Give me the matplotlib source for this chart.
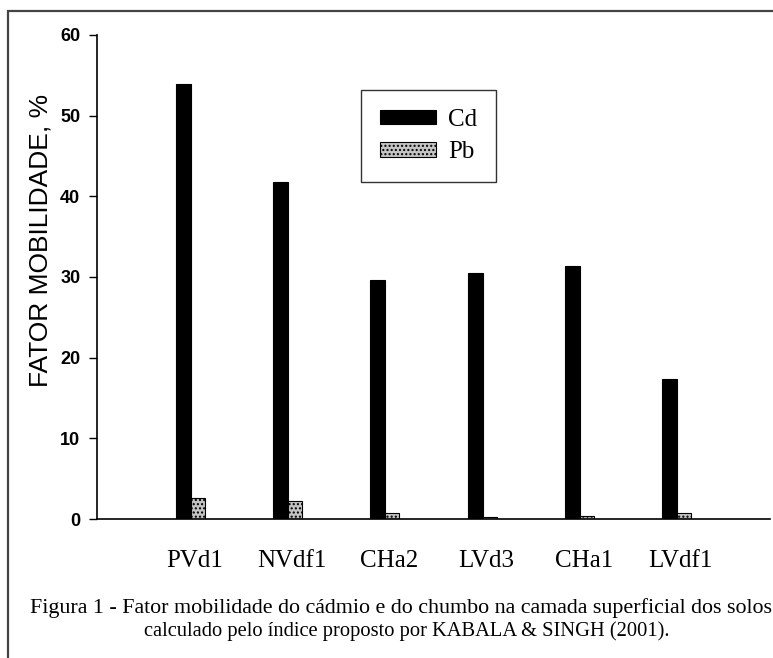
import matplotlib.pyplot as plt
import numpy as np
from matplotlib.patches import Rectangle

# valores
solos = ['PVd1', 'NVdf1', 'CHa2', 'LVd3', 'CHa1', 'LVdf1']
cd = [53.9, 41.8, 29.6, 30.5, 31.4, 17.3]
pb = [2.6, 2.2, 0.8, 0.3, 0.4, 0.7]
yticks = [0, 10, 20, 30, 40, 50, 60]
legenda = 'Figura 1 - Fator mobilidade do cádmio e do chumbo na camada superficial dos solos'
legenda2 = 'calculado pelo índice proposto por KABALA & SINGH (2001).'

fig = plt.figure(figsize=(7.73, 6.58), dpi=100)
ax = fig.add_axes([97 / 773, 1 - 519 / 658, 673 / 773, 484 / 658])

x = np.arange(len(solos))
ax.bar(x, cd, width=-0.155, align='edge', color='black', edgecolor='black', linewidth=0.8, label='Cd')
ax.bar(x, pb, width=0.144, align='edge', color='#c4c4c4', edgecolor='black', linewidth=0.8,
       hatch='....', label='Pb')

ax.set_xlim(-0.967, 5.957)
ax.set_ylim(0, 60)
ax.set_yticks(yticks)
ax.set_yticklabels([str(t) for t in yticks], fontfamily='Liberation Sans', fontsize=13, fontweight='bold')
ax.tick_params(axis='y', direction='out', length=6, width=1, pad=6)
ax.set_xticks(x + 0.04)
ax.set_xticklabels(solos, fontfamily='Liberation Serif', fontsize=18)
ax.tick_params(axis='x', length=0, pad=22)
for s in ['top', 'right']:
    ax.spines[s].set_visible(False)
ax.spines['left'].set_linewidth(1.2)
ax.spines['bottom'].set_linewidth(1.2)

ax.set_ylabel('FATOR MOBILIDADE, %', fontfamily='Liberation Sans', fontsize=19)
ax.yaxis.set_label_coords((53 - 97) / 673, (519 - 240) / 484)

leg = ax.legend(loc='upper left', bbox_to_anchor=(0.392, 0.886), frameon=True, fancybox=False,
                prop={'family': 'Liberation Serif', 'size': 18}, handlelength=2.25, handleheight=0.5,
                handletextpad=0.5, borderpad=0.75, labelspacing=0.42, borderaxespad=0)
leg.get_frame().set_edgecolor('black')
leg.get_frame().set_linewidth(1.0)

fig.text(401 / 773, 1 - 608 / 658, legenda, ha='center', va='center', fontfamily='Liberation Serif', fontsize=15.8)
fig.text(407 / 773, 1 - 631 / 658, legenda2, ha='center', va='center', fontfamily='Liberation Serif', fontsize=14.8)

# moldura da figura
fig.patches.append(Rectangle((8 / 773, -0.05), 1.1, 1 - 11 / 658 + 0.05, transform=fig.transFigure,
                             fill=False, edgecolor='#444444', linewidth=1.6, clip_on=False))

fig.savefig('out.png', dpi=100)
